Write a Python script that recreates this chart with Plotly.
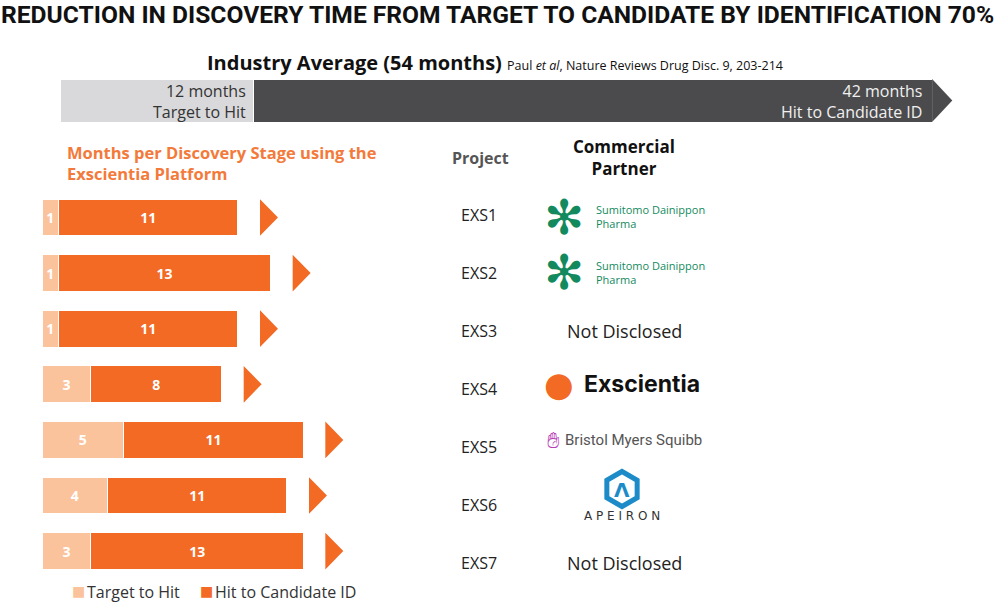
import plotly.graph_objects as go

# ---------------- data ----------------
projects = ["EXS1", "EXS2", "EXS3", "EXS4", "EXS5", "EXS6", "EXS7"]
target_to_hit = [1, 1, 1, 3, 5, 4, 3]
hit_to_candidate = [11, 13, 11, 8, 11, 11, 13]
partners = ["Sumitomo Dainippon Pharma", "Sumitomo Dainippon Pharma", "Not Disclosed",
            "Exscientia", "Bristol Myers Squibb", "APEIRON", "Not Disclosed"]
industry_stages = ["Target to Hit", "Hit to Candidate ID"]
industry_months = [12, 42]
series_names = ["Target to Hit", "Hit to Candidate ID"]

LIGHT = "#FBC39C"
ORANGE = "#F26A24"
GREY_L = "#D9D9DB"
GREY_D = "#4B4B4D"
FONT = "Open Sans"
W, H = 994, 602

rows = list(range(len(projects)))
fig = go.Figure()

# project bars
fig.add_trace(go.Bar(
    y=rows, x=target_to_hit, orientation="h", name=series_names[0],
    marker=dict(color=LIGHT, line=dict(color="white", width=1)),
    width=0.66, text=[str(v) for v in target_to_hit], textposition="inside",
    insidetextanchor="middle", textangle=0, constraintext="none",
    textfont=dict(family=FONT, size=14, color="white", weight="bold"),
    hoverinfo="skip"))
fig.add_trace(go.Bar(
    y=rows, x=hit_to_candidate, base=target_to_hit, orientation="h",
    name=series_names[1],
    marker=dict(color=ORANGE, line=dict(color="white", width=1)),
    width=0.66, text=[str(v) for v in hit_to_candidate], textposition="inside",
    insidetextanchor="middle", textangle=0,
    textfont=dict(family=FONT, size=14, color="white", weight="bold"),
    hoverinfo="skip"))

# arrow heads after each bar
ax, ay = [], []
for i, (a, b) in enumerate(zip(target_to_hit, hit_to_candidate)):
    end = a + b
    ax += [end + 1.35, end + 1.35, end + 2.45, end + 1.35, None]
    ay += [i - 0.33, i + 0.33, i, i - 0.33, None]
fig.add_trace(go.Scatter(x=ax, y=ay, mode="lines", fill="toself",
                         fillcolor=ORANGE, line=dict(width=0, color=ORANGE),
                         showlegend=False, hoverinfo="skip"))

# industry average bar (second axes)
fig.add_trace(go.Bar(
    y=[0], x=[industry_months[0]], orientation="h", xaxis="x2", yaxis="y2",
    marker=dict(color=GREY_L, line=dict(color="white", width=1)), width=1,
    showlegend=False, hoverinfo="skip"))
fig.add_trace(go.Bar(
    y=[0], x=[industry_months[1]], base=[industry_months[0]], orientation="h",
    xaxis="x2", yaxis="y2",
    marker=dict(color=GREY_D, line=dict(color="white", width=1)), width=1,
    showlegend=False, hoverinfo="skip"))
tot = sum(industry_months)
fig.add_trace(go.Scatter(
    x=[tot, tot, tot + 1.25, tot], y=[-0.5, 0.5, 0, -0.5], xaxis="x2", yaxis="y2",
    mode="lines", fill="toself", fillcolor=GREY_D, line=dict(width=0, color=GREY_D),
    showlegend=False, hoverinfo="skip"))

# axis scales
pxm = 16.33           # px per month, project bars, zero at px 42
y0 = 217.5            # centre of first row (px)
row_h = 55.6          # row spacing (px)
pxm2 = 16.15          # px per month, industry bar, zero at px 60
ind_c, ind_h = 100.5, 43

ann = []
shapes = []


def A(text, x, y, size=15, color="#222", xanchor="center", yanchor="middle",
      family=FONT, weight="normal", align="center", **kw):
    ann.append(dict(text=text, x=x / W, y=1 - y / H, xref="paper", yref="paper",
                    showarrow=False, xanchor=xanchor, yanchor=yanchor, align=align,
                    font=dict(size=size, color=color, family=family, weight=weight), **kw))


# titles
A("REDUCTION IN DISCOVERY TIME FROM TARGET TO CANDIDATE BY IDENTIFICATION 70%",
  497, 14, size=24.6, color="#111", family="Roboto", weight="bold")
A("<b>Industry Average (54 months)</b> <span style='font-size:12.5px'>Paul <i>et al</i>, Nature Reviews Drug Disc. 9, 203-214</span>",
  205, 63, size=20, color="#111", xanchor="left")
A(f"{industry_months[0]} months<br>{industry_stages[0]}", 248, 101, size=16,
  color="#333", xanchor="right", align="right")
A(f"{industry_months[1]} months<br>{industry_stages[1]}", 924, 101, size=16,
  color="#F0F0F0", xanchor="right", align="right")
A("Months per Discovery Stage using the<br>Exscientia Platform", 65, 163, size=16.5,
  color="#F37A3A", xanchor="left", align="left", weight="bold")
A("Project", 480, 158, size=16, color="#555", weight="bold")
A("Commercial<br>Partner", 624, 157, size=17, color="#111", weight="bold")

label_y = [215, 273, 331, 389, 447, 505, 563]
partner_y = [217, 272, 331, 384, 440, 489, 563]
for i, (p, partner) in enumerate(zip(projects, partners)):
    A(p, 479, label_y[i], size=16, color="#222")
    yc = partner_y[i]
    if partner == "Not Disclosed":
        A(partner, 624, yc, size=18, color="#222")
    elif partner.startswith("Sumitomo"):
        A("✻", 564, yc, size=48, color="#138A5E", family="DejaVu Sans")
        A("Sumitomo Dainippon<br>Pharma", 594, yc, size=11, color="#138A5E",
          xanchor="left", align="left")
    elif partner == "Exscientia":
        A("●", 559, yc, size=34, color=ORANGE, family="DejaVu Sans")
        A("Exscientia", 582, yc, size=23, color="#111", xanchor="left",
          family="Inter", weight="bold")
    elif partner.startswith("Bristol"):
        A("✋\ufe0e", 553, yc, size=22, color="#B83FB5", family="DejaVu Sans")
        A(partner, 563, yc, size=15, color="#555", xanchor="left",
          family="Liberation Sans Narrow, Roboto")
    elif partner == "APEIRON":
        cx, cy, r = 622, yc, 17.5
        pts = [(cx, cy - r), (cx + 0.866 * r, cy - r / 2), (cx + 0.866 * r, cy + r / 2),
               (cx, cy + r), (cx - 0.866 * r, cy + r / 2), (cx - 0.866 * r, cy - r / 2)]
        path = "M " + " L ".join(f"{px_ / W:.5f},{1 - py_ / H:.5f}" for px_, py_ in pts) + " Z"
        shapes.append(dict(type="path", path=path, xref="paper", yref="paper",
                           line=dict(color="#1E8BC9", width=5)))
        A("Λ", cx, yc + 1, size=20, color="#1E8BC9", family="DejaVu Sans", weight="bold")
        A("A P E I R O N", 622, yc + 27, size=12, color="#333", family="DejaVu Sans")

# legend (manual, colours from the series)
A("■", 78, 591, size=14, color=LIGHT, family="DejaVu Sans")
A(series_names[0], 85, 592, size=16, color="#333", xanchor="left")
A("■", 206, 591, size=14, color=ORANGE, family="DejaVu Sans")
A(series_names[1], 213, 592, size=16, color="#333", xanchor="left")

fig.update_layout(
    width=W, height=H, margin=dict(l=0, r=0, t=0, b=0),
    paper_bgcolor="white", plot_bgcolor="white", barmode="stack",
    xaxis=dict(range=[-42 / pxm, (W - 42) / pxm], visible=False, domain=[0, 1]),
    yaxis=dict(range=[(H - y0) / row_h, -y0 / row_h], visible=False, domain=[0, 1]),
    xaxis2=dict(range=[-60 / pxm2, (W - 60) / pxm2], visible=False, domain=[0, 1],
                anchor="y2", overlaying="x"),
    yaxis2=dict(range=[(H - ind_c) / ind_h, -ind_c / ind_h], visible=False,
                domain=[0, 1], anchor="x2", overlaying="y"),
    showlegend=False,
    annotations=ann,
    shapes=shapes,
)

fig.write_html("out.html")
